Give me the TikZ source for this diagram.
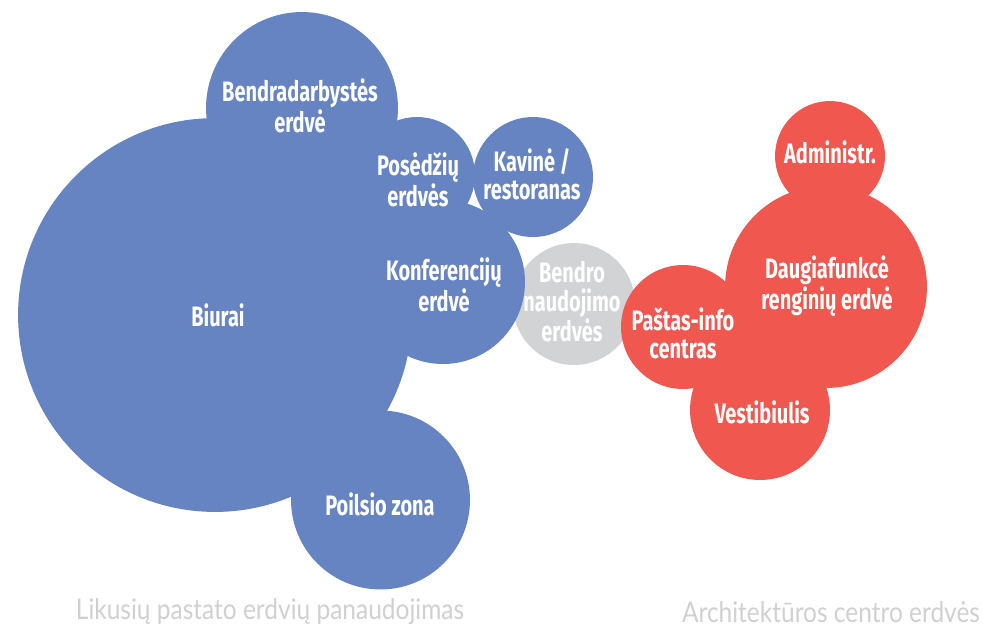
\documentclass[tikz,border=0pt]{standalone}
\usepackage{fontspec}
\newfontfamily\labelfont[FakeStretch=0.71]{Fira Sans}
\newfontfamily\capfont[FakeStretch=0.86]{Lato}
\definecolor{zonablue}{HTML}{6683C2}
\definecolor{zonared}{HTML}{F0574E}
\definecolor{zonagray}{HTML}{D1D3D4}
\definecolor{captiongray}{HTML}{D0D0D0}
\tikzset{
  bubble/.style 2 args={circle, inner sep=0pt, fill=#1, minimum size=#2*0.04cm},
  lbl/.style={text=white, align=center, font=\labelfont\bfseries\fontsize{16}{16}\selectfont},
  caption/.style={text=captiongray, font=\capfont\fontsize{16.2}{18}\selectfont}
}
\begin{document}
\begin{tikzpicture}[x=0.02cm, y=-0.02cm]

        \useasboundingbox (0,0) rectangle (983,626);

        %-- shared space (drawn first, others overlap it) --
        \node[bubble={zonagray}{61}] (bendro) at (574,304) {};

        %-- left cluster: remaining building spaces --
        \node[bubble={zonablue}{197}] (biurai)  at (215,315) {};
        \node[bubble={zonablue}{96}]  (bendr)   at (302,108) {};
        \node[bubble={zonablue}{58}]  (posed)   at (417,175) {};
        \node[bubble={zonablue}{60}]  (kavine)  at (533,177) {};
        \node[bubble={zonablue}{82}]  (konf)    at (443,282) {};
        \node[bubble={zonablue}{89.5}] (poilsis) at (380.5,500) {};

        %-- right cluster: architecture centre --
        \node[bubble={zonared}{55}]  (admin)   at (830,156) {};
        \node[bubble={zonared}{101}] (daugia)  at (826,287) {};
        \node[bubble={zonared}{70}]  (vestib)  at (760,410) {};
        \node[bubble={zonared}{62}]  (pastas)  at (683,327) {};

        %-- labels --
        \node[lbl] (tbiurai)  at (218,315) {Biurai};
        \node[lbl] (tbendr)   at (300,106) {Bendradarbystės\\erdvė};
        \node[lbl] (tposed)   at (418,180) {Posėdžių\\erdvės};
        \node[lbl] (tkavine)  at (532,174) {Kavinė /\\restoranas};
        \node[lbl] (tkonf)    at (444,285) {Konferencijų\\erdvė};
        \node[lbl] (tpoilsis) at (380,504) {Poilsio zona};
        \node[lbl] (tbendro)  at (572,302) {Bendro\\naudojimo\\erdvės};
        \node[lbl] (tadmin)   at (830,152) {Administr.};
        \node[lbl] (tdaugia)  at (827,286) {Daugiafunkcė\\renginių erdvė};
        \node[lbl] (tpastas)  at (683,333) {Paštas-info\\centras};
        \node[lbl] (tvestib)  at (762,412) {Vestibiulis};

        %-- captions --
        \node[caption] (capleft)  at (270,612) {Likusių pastato erdvių panaudojimas};
        \node[caption] (capright) at (831,612) {Architektūros centro erdvės};

\end{tikzpicture}
\end{document}
